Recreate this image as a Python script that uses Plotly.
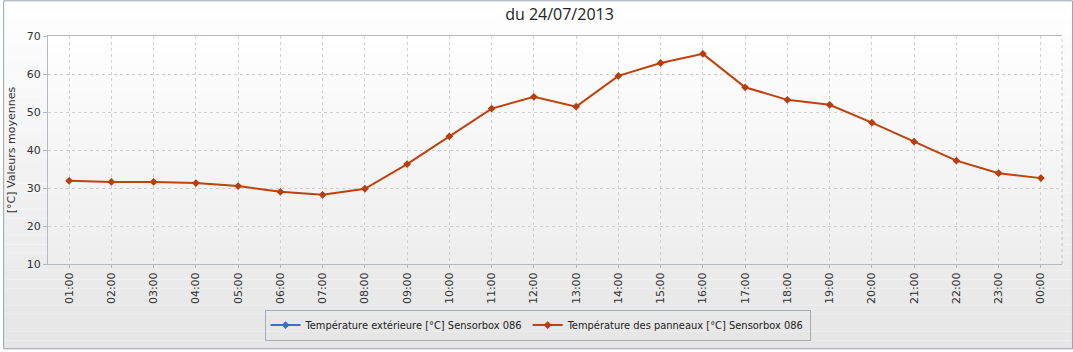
import plotly.graph_objects as go

hours = ["01:00", "02:00", "03:00", "04:00", "05:00", "06:00", "07:00", "08:00",
         "09:00", "10:00", "11:00", "12:00", "13:00", "14:00", "15:00", "16:00",
         "17:00", "18:00", "19:00", "20:00", "21:00", "22:00", "23:00", "00:00"]
temp_ext = [None] * 24
temp_panneaux = [31.9, 31.6, 31.6, 31.3, 30.5, 29.0, 28.2, 29.8,
                 36.3, 43.6, 50.9, 54.0, 51.4, 59.5, 62.9, 65.3,
                 56.5, 53.2, 51.9, 47.2, 42.2, 37.2, 33.9, 32.6]
y_ticks = [10, 20, 30, 40, 50, 60, 70]

W, H = 1073, 352
L, R, T, B = 45, 11, 36, 86
pw, ph = W - L - R, H - T - B

def px(x):
    return (x - L) / pw

def py(y):
    return (H - B - y) / ph

fig = go.Figure()
fig.add_trace(go.Scatter(
    x=hours, y=temp_ext, mode="lines+markers",
    name="Température extérieure [°C] Sensorbox 086",
    line=dict(color="#3b6fc6", width=2),
    marker=dict(symbol="diamond", size=6, color="#3b6fc6"),
))
fig.add_trace(go.Scatter(
    x=hours, y=temp_panneaux, mode="lines+markers",
    name="Température des panneaux [°C] Sensorbox 086",
    line=dict(color="#c0410c", width=2),
    marker=dict(symbol="diamond", size=6, color="#b93c0a"),
))

shapes = []
n = 40
for i in range(n):
    y0 = i * H / n
    y1 = (i + 1) * H / n
    t = i / (n - 1)
    c = int(255 - t * (255 - 230))
    shapes.append(dict(type="rect", xref="paper", yref="paper",
                       x0=px(0), x1=px(W), y0=py(y1), y1=py(y0),
                       fillcolor=f"rgb({c},{c},{c})", line=dict(width=0), layer="below"))
for i in range(n):
    y0 = T + i * ph / n
    y1 = T + (i + 1) * ph / n
    t = i / (n - 1)
    c = int(255 - t * (255 - 238))
    shapes.append(dict(type="rect", xref="paper", yref="paper",
                       x0=0, x1=1, y0=py(y1), y1=py(y0),
                       fillcolor=f"rgb({c},{c},{c})", line=dict(width=0), layer="below"))
shapes.append(dict(type="line", xref="paper", yref="paper", x0=1, x1=1, y0=0, y1=1,
                   line=dict(color="#c4c8cc", width=1, dash="dot"), layer="above"))
shapes.append(dict(type="rect", xref="paper", yref="paper",
                   x0=px(0.5), x1=px(W - 0.5), y0=py(H - 0.5), y1=py(0.5),
                   line=dict(color="#98a4b2", width=1), fillcolor="rgba(0,0,0,0)", layer="above"))

fig.update_layout(
    width=W, height=H,
    margin=dict(l=L, r=R, t=T, b=B),
    paper_bgcolor="#ffffff",
    plot_bgcolor="rgba(0,0,0,0)",
    font=dict(family="DejaVu Sans", size=11, color="#333333"),
    title=dict(text="du 24/07/2013", x=px(558), xref="paper", xanchor="center",
               y=1 - 14 / H, yanchor="middle",
               font=dict(family="Open Sans", size=16, color="#222222")),
    shapes=shapes,
    showlegend=True,
    legend=dict(orientation="h", x=px(536), xanchor="center", y=py(312), yanchor="top",
                bordercolor="#a4aebb", borderwidth=1, bgcolor="rgba(0,0,0,0)",
                font=dict(family="DejaVu Sans Condensed", size=11, color="#222222"),
                itemwidth=30),
)
fig.update_xaxes(
    type="category", range=[-0.5, 23.5],
    tickangle=-90, tickfont=dict(size=11, color="#333333"),
    showgrid=True, gridcolor="#d2d2d2", griddash="dot", gridwidth=1,
    showline=True, linecolor="#b4bac2", linewidth=1, mirror=True,
    ticks="outside", ticklen=3, tickcolor="#b4bac2",
    zeroline=False,
)
fig.update_yaxes(
    range=[10, 70], tickvals=y_ticks,
    tickfont=dict(size=11, color="#333333"),
    showgrid=True, gridcolor="#d2d2d2", griddash="dot", gridwidth=1,
    showline=True, linecolor="#b4bac2", linewidth=1,
    ticks="outside", ticklen=4, tickcolor="#b4bac2",
    zeroline=False,
    title=dict(text="[°C] Valeurs moyennes", standoff=8, font=dict(size=11, color="#333333")),
)

fig.write_html("out.html")
